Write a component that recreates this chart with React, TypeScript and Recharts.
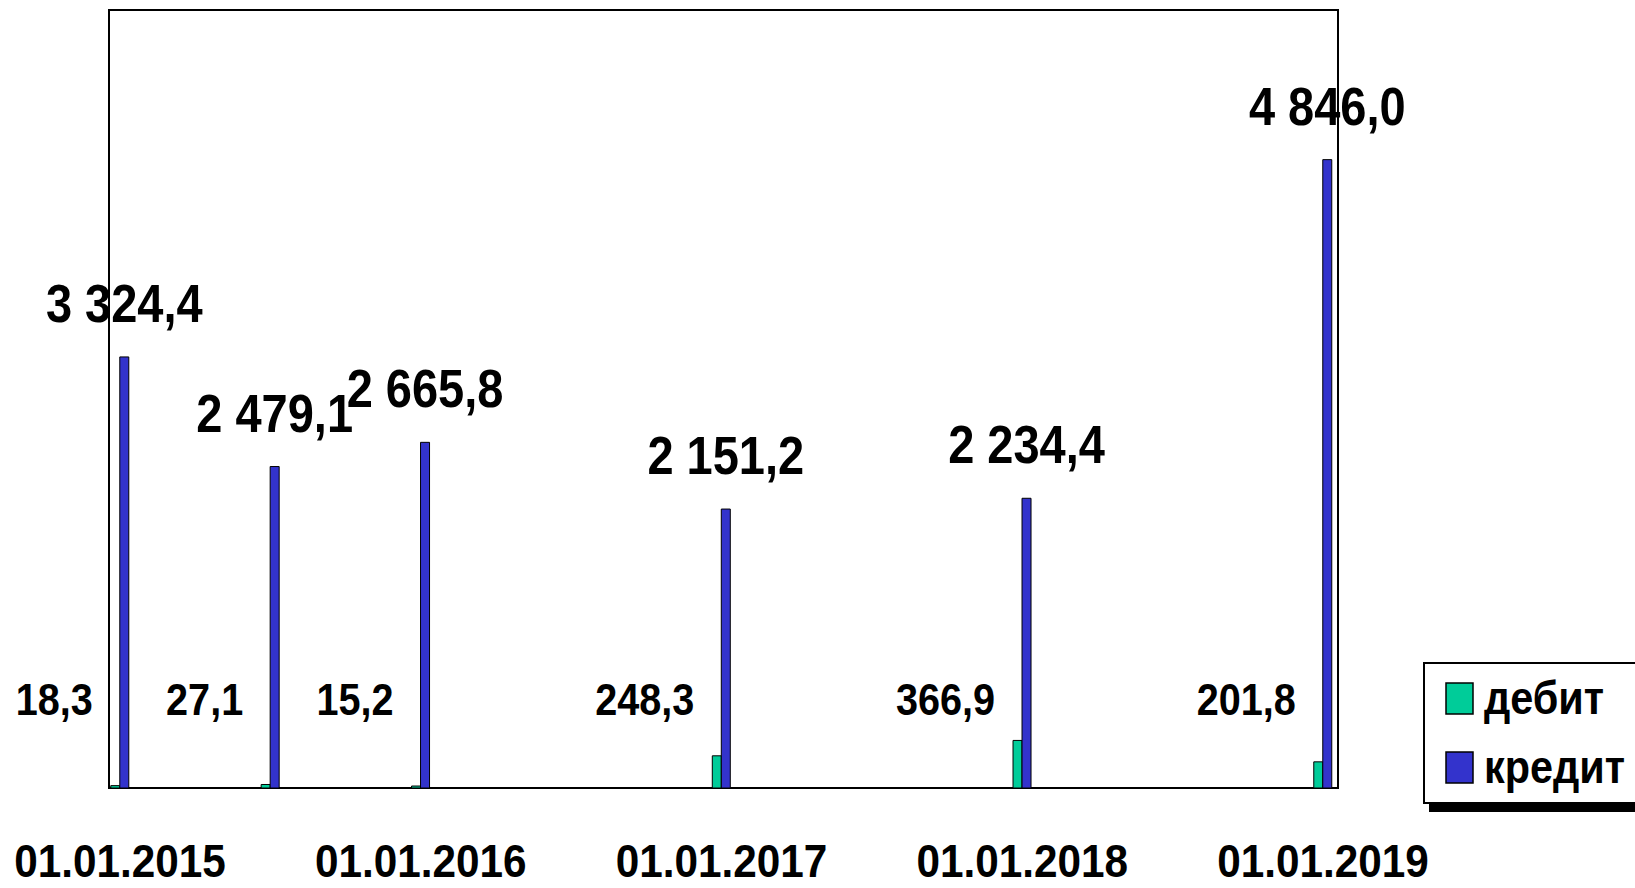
import { BarChart, Bar, XAxis, YAxis, ReferenceArea, LabelList, Legend } from 'recharts'

const dates = ['01.01.2015', '01.07.2015', '01.01.2016', '01.01.2017', '01.01.2018', '01.01.2019']
const debit = [18.3, 27.1, 15.2, 248.3, 366.9, 201.8]
const credit = [3324.4, 2479.1, 2665.8, 2151.2, 2234.4, 4846.0]
const tickYears = [2015, 2016, 2017, 2018, 2019]
const tickLabels = ['01.01.2015', '01.01.2016', '01.01.2017', '01.01.2018', '01.01.2019']

// dd.mm.yyyy -> fractional year, so the x axis keeps real time spacing
const toYear = (d: string) => {
  const [dd, mm, yy] = d.split('.').map(Number)
  return yy + (mm - 1) / 12 + (dd - 1) / 365
}

const data = dates.map((d, i) => ({ t: toYear(d), debit: debit[i], credit: credit[i] }))

const X_MIN = 2014.9635
const X_MAX = 2019.05
const Y_MAX = 6000

const FONT = '"Liberation Sans", Arial, sans-serif'

const fmt = (v: number) => {
  const [int, frac] = v.toFixed(1).split('.')
  return int.replace(/\B(?=(\d{3})+(?!\d))/g, ' ') + ',' + frac
}

const CreditLabel = (p: any) => {
  const vb = p.viewBox || p
  const cx = vb.x + vb.width / 2
  return (
    <text transform={`translate(${cx},${vb.y - 35}) scale(0.87,1)`} textAnchor="middle"
      fontFamily={FONT} fontWeight="bold" fontSize={54} fill="#000">
      {fmt(p.value)}
    </text>
  )
}

const DebitLabel = (p: any) => {
  const vb = p.viewBox || p
  const bottom = vb.y + vb.height
  return (
    <text transform={`translate(${vb.x - 18},${bottom - 73}) scale(0.88,1)`} textAnchor="end"
      fontFamily={FONT} fontWeight="bold" fontSize={45} fill="#000">
      {fmt(p.value)}
    </text>
  )
}

const DateTick = (p: any) => {
  const i = tickYears.indexOf(p.payload.value)
  return (
    <text transform={`translate(${p.x},${p.y + 89}) scale(0.9,1)`} textAnchor="middle"
      fontFamily={FONT} fontWeight="bold" fontSize={47} fill="#000">
      {tickLabels[i]}
    </text>
  )
}

const LegendBox = (props: any) => (
  <div style={{
    width: 260, height: 142, boxSizing: 'border-box', border: '2px solid #000',
    background: '#fff', boxShadow: '6px 8px 0 #000',
  }}>
    <svg width={256} height={138} style={{ display: 'block' }}>
      {(props.payload || []).map((e: any, i: number) => (
        <g key={e.value} transform={`translate(0,${i * 69})`}>
          <rect x={21} y={19} width={27} height={31} fill={e.color} stroke="#000" strokeWidth={1.5} />
          <text transform="translate(59,50) scale(0.9,1)" fontFamily={FONT} fontWeight="bold"
            fontSize={46} fill="#000">
            {e.value}
          </text>
        </g>
      ))}
    </svg>
  </div>
)

export default function App() {
  return (
    <div style={{ position: 'absolute', left: 0, top: 0, width: 1635, height: 888, overflow: 'hidden', background: '#fff' }}>
      <BarChart width={1635} height={888} data={data} barGap={0}
        margin={{ top: 10, right: 297, bottom: 0, left: 109 }}>
        <XAxis dataKey="t" type="number" domain={[X_MIN, X_MAX]} ticks={tickYears}
          allowDataOverflow height={100} axisLine={false} tickLine={false}
          tickSize={0} tickMargin={0} tick={DateTick} interval={0} />
        <YAxis hide domain={[0, Y_MAX]} width={0} />
        <ReferenceArea x1={X_MIN} x2={X_MAX} y1={0} y2={Y_MAX} fill="none"
          stroke="#000" strokeWidth={2} fillOpacity={0} ifOverflow="visible" />
        <Legend layout="vertical" align="center" verticalAlign="middle"
          wrapperStyle={{ left: 1423, top: 662, width: 260, height: 142 }} content={LegendBox} />
        <Bar dataKey="debit" name="дебит" fill="#00CC99" stroke="#000" strokeWidth={1}
          barSize={9} isAnimationActive={false}>
          <LabelList dataKey="debit" content={DebitLabel} />
        </Bar>
        <Bar dataKey="credit" name="кредит" fill="#3333CC" stroke="#000" strokeWidth={1}
          barSize={9} isAnimationActive={false}>
          <LabelList dataKey="credit" content={CreditLabel} />
        </Bar>
      </BarChart>
    </div>
  )
}
